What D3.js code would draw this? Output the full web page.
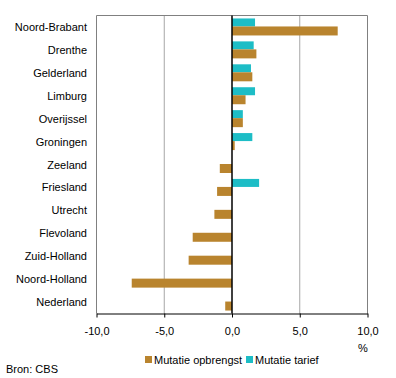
<!DOCTYPE html>
<html><head><meta charset="utf-8">
<script src="https://cdn.jsdelivr.net/npm/d3@7"></script>
<style>body{margin:0;background:#fff}svg{display:block;font-family:"Liberation Sans",Arial,sans-serif}</style>
</head><body><svg id="c" width="396" height="378"></svg>
<script>
const categories = ["Noord-Brabant","Drenthe","Gelderland","Limburg","Overijssel","Groningen","Zeeland","Friesland","Utrecht","Flevoland","Zuid-Holland","Noord-Holland","Nederland"];
const opbrengst = [7.8,1.8,1.5,1.0,0.8,0.2,-0.9,-1.1,-1.3,-2.9,-3.2,-7.4,-0.5];
const tarief = [1.7,1.6,1.4,1.7,0.8,1.5,null,2.0,null,null,null,null,null];
const xTicks = [-10,-5,0,5,10];
const seriesNames = ["Mutatie opbrengst","Mutatie tarief"];
const colors = ["#b9842e","#1dbdc6"];

const svg = d3.select("#c");
const L = 96.5, R = 367.5, T = 15.5, B = 313.5;
const x = d3.scaleLinear().domain([-10,10]).range([L,R]);
const y = d3.scaleBand().domain(categories).range([T,B]);
const bw = y.bandwidth();

// gridlines
svg.append("g").selectAll("line").data(xTicks.filter(d=>d!==0 && Math.abs(d)!==10)).join("line")
  .attr("x1",d=>x(d)).attr("x2",d=>x(d)).attr("y1",T).attr("y2",B)
  .attr("stroke","#a6a6a6").attr("stroke-width",1);
// frame top/left/right
svg.append("path").attr("d",`M${L},${B}V${T}H${R}V${B}`).attr("fill","none").attr("stroke","#808080").attr("stroke-width",1);

const g = svg.append("g");
// teal bars (top)
g.selectAll(".t").data(categories.map((c,i)=>({c,v:tarief[i]})).filter(d=>d.v!=null)).join("rect")
  .attr("x",d=>Math.min(x(0),x(d.v))).attr("width",d=>Math.abs(x(d.v)-x(0)))
  .attr("y",d=>y(d.c)+bw/2-8.5).attr("height",8).attr("fill",colors[1]);
g.selectAll(".o").data(categories.map((c,i)=>({c,v:opbrengst[i]}))).join("rect")
  .attr("x",d=>Math.min(x(0),x(d.v))).attr("width",d=>Math.abs(x(d.v)-x(0)))
  .attr("y",d=>y(d.c)+bw/2-0.5).attr("height",9).attr("fill",colors[0]);

// zero line
svg.append("line").attr("x1",x(0)).attr("x2",x(0)).attr("y1",T).attr("y2",B).attr("stroke","#000").attr("stroke-width",1.5);

// x axis
const fmt = d=>d3.format(".1f")(d).replace(".",",").replace("−","-");
const ax = svg.append("g").attr("transform",`translate(0,${B})`)
  .call(d3.axisBottom(x).tickValues(xTicks).tickSize(4).tickSizeOuter(0).tickFormat(fmt));
ax.select(".domain").attr("stroke","#000").attr("stroke-width",1);
ax.selectAll(".tick line").attr("stroke","#000");
ax.selectAll("text").attr("font-size",11).attr("fill","#000").attr("dy","1.3em").attr("font-family","Liberation Sans, Arial, sans-serif");

// category labels
svg.append("g").selectAll("text").data(categories).join("text")
  .attr("x",87).attr("y",d=>y(d)+bw/2+4).attr("text-anchor","end")
  .attr("font-size",11).attr("fill","#000").text(d=>d);

svg.append("text").attr("x",363).attr("y",352).attr("text-anchor","middle").attr("font-size",11).text("%");

// legend
const leg = [{n:seriesNames[0],c:colors[0],x:145},{n:seriesNames[1],c:colors[1],x:246}];
const lg = svg.append("g").selectAll("g").data(leg).join("g").attr("transform",d=>`translate(${d.x},356)`);
lg.append("rect").attr("width",7).attr("height",7).attr("fill",d=>d.c);
lg.append("text").attr("x",9).attr("y",7.5).attr("font-size",11).text(d=>d.n);

svg.append("text").attr("x",6).attr("y",373).attr("font-size",11).text("Bron: CBS");
</script></body></html>
